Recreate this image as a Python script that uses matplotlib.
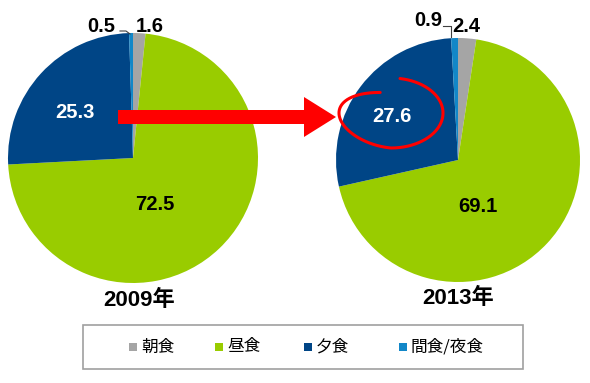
import numpy as np
import matplotlib.pyplot as plt
from matplotlib.patches import FancyArrow, Rectangle

plt.rcParams['font.family'] = ['Liberation Sans', 'Noto Sans CJK JP', 'DejaVu Sans']

# data
categories = ['朝食', '昼食', '夕食', '間食/夜食']
values_2009 = [1.6, 72.5, 25.3, 0.5]
values_2013 = [2.4, 69.1, 27.6, 0.9]
years = ['2009年', '2013年']
colors = ['#A5A5A5', '#99CC00', '#004586', '#1287C8']

W, H = 590, 383
fig = plt.figure(figsize=(W / 100, H / 100), dpi=100)
ax = fig.add_axes([0, 0, 1, 1])

def Y(y):
    return H - y

pies = [
    (values_2009, (133, 158), 125),
    (values_2013, (458, 160), 122),
]
for vals, (cx, cy), r in pies:
    ax.pie(vals, colors=colors, startangle=90, counterclock=False,
           center=(cx, Y(cy)), radius=r, frame=True,
           wedgeprops=dict(linewidth=0))
ax.set_xlim(0, W)
ax.set_ylim(0, H)
ax.set_aspect('equal')
ax.set_axis_off()

bold = dict(fontweight='bold', ha='center', va='center')
fs = 14.5
# 2009 labels
ax.text(101, Y(26), f'{values_2009[3]}', fontsize=fs, color='black', **bold)
ax.text(150, Y(26), f'{values_2009[0]}', fontsize=fs, color='black', **bold)
ax.plot([120, 126, 130], [Y(31), Y(31), Y(34)], color='#404040', lw=0.8)
ax.text(75, Y(113), f'{values_2009[2]}', fontsize=fs, color='white', **bold)
ax.text(155, Y(205), f'{values_2009[1]}', fontsize=fs, color='black', **bold)
ax.text(139, Y(300), years[0], fontsize=16, color='black',
        family=['Liberation Sans', 'Noto Sans CJK JP'], **bold)

# 2013 labels
ax.text(428, Y(20), f'{values_2013[3]}', fontsize=fs, color='black', **bold)
ax.text(466, Y(27), f'{values_2013[0]}', fontsize=fs, color='black', **bold)
ax.plot([443, 451, 451], [Y(26), Y(26), Y(37)], color='#404040', lw=0.8)
ax.text(392, Y(117), f'{values_2013[2]}', fontsize=fs, color='white', **bold)
ax.text(478, Y(207), f'{values_2013[1]}', fontsize=fs, color='black', **bold)
ax.text(458, Y(298), years[1], fontsize=16, color='black',
        family=['Liberation Sans', 'Noto Sans CJK JP'], **bold)

# red arrow
ax.add_patch(FancyArrow(118, Y(117), 218, 0, width=14, head_width=40,
                        head_length=32, length_includes_head=True,
                        color='#FF0000', lw=0, zorder=5))

# hand-drawn red loop around 27.6 (image coords, clockwise)
th = np.radians(np.linspace(-80, 258, 300))
a = np.full_like(th, 52.0)
b = np.where(th < np.radians(90), 35.0,
             35.0 - 14.0 * (th - np.radians(90)) / np.radians(168))
px = 391 + a * np.cos(th)
py = 113 + b * np.sin(th)
ax.plot(px, Y(py), color='#FF0000', lw=2.2, solid_capstyle='round', zorder=6)

# legend box
ax.add_patch(Rectangle((83, Y(369)), 440, 44, fill=False,
                       edgecolor='#A0A0A0', lw=1.2))
leg_x = [133, 219, 308, 403]
for x, c, lab in zip(leg_x, colors, categories):
    ax.add_patch(Rectangle((x - 4, Y(351)), 8, 8, color=c, lw=0))
    ax.text(x + 8, Y(347), lab, fontsize=12, color='black',
            ha='left', va='center', family=['Noto Sans CJK JP', 'DejaVu Sans'])

fig.savefig('out.png', dpi=100)
